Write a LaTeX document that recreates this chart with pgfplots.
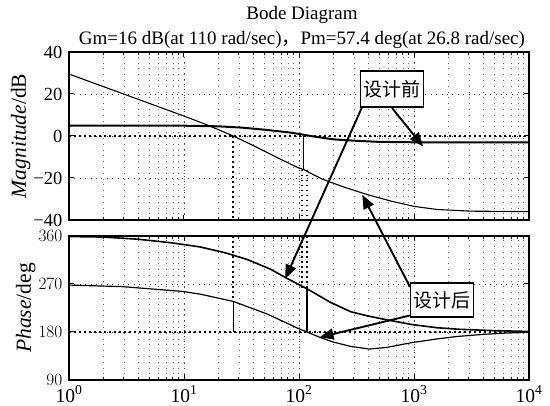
\documentclass[border=0pt]{standalone}
\usepackage{fontspec}
\setmainfont{Liberation Serif}
\newfontfamily\cjk{Noto Sans CJK SC}
\usepackage{pgfplots}
\pgfplotsset{compat=1.18}
\usetikzlibrary{arrows.meta}

\newcommand{\bodefont}{\fontsize{19}{21}\selectfont}
\newcommand{\tickfont}{\fontsize{19.5}{21}\selectfont}
\newcommand{\ytickfont}{\fontsize{18.5}{20}\selectfont}
\newcommand{\labfont}{\fontsize{21.5}{23}\selectfont}
\pgfplotsset{every axis/.append style={
    scale only axis, width=460pt,
    xmin=1, xmax=10000,
    xtick={1,10,100,1000,10000},
    axis line style={line width=1.3pt},
    tick align=inside, tick style={black,line width=1pt},
    major tick length=5pt, minor tick length=3pt,
    minor y tick num=0,
    grid=both,
    major grid style={black!75,line width=0.8pt,dash pattern=on 0.9pt off 4.5pt},
    minor grid style={black!55,line width=0.7pt,dash pattern=on 0.8pt off 5pt},
    xticklabel style={font=\tickfont,inner sep=1pt,yshift=-4.5pt},
    yticklabel style={font=\ytickfont,inner sep=0.5pt,xshift=-6pt},
    ylabel style={font=\labfont,yshift=-1pt}}}
\tikzset{
  margin/.style={line width=1.6pt,dash pattern=on 1.6pt off 3.4pt,black},
  tip/.style={line width=1.9pt,-{Triangle[length=14pt,width=11pt]}}}

\begin{document}
\begin{tikzpicture}
\useasboundingbox (0,0) rectangle (550pt,406pt);

% magnitude
\begin{semilogxaxis}[at={(69pt,186pt)}, anchor=south west, height=168pt,
  ymin=-40, ymax=40, ytick={-40,-20,0,20,40},
  yticklabels={−40,−20,0,20,40}, xticklabels={},
  ylabel={\textit{Magnitude}/dB}]
\addplot[margin] coordinates {(1,0) (10000,0)};
\addplot[margin] coordinates {(26.8,0) (26.8,-40)};
\addplot[margin] coordinates {(106,-16) (106,-40)};
\addplot[margin] coordinates {(117,-16) (117,-40)};
% before design
\addplot[black,line width=2pt] coordinates {
  (1,4.9) (10,4.9) (19.95,4.6) (31.6,4.0) (50.1,3.0) (79.4,1.8) (100,1.0)
  (125.9,0.0) (199.5,-1.6) (316,-2.3) (501,-2.8) (1000,-3.0) (10000,-3.0)};
% after design
\addplot[black,line width=1.1pt] coordinates {
  (1,29.5) (1.778,24.5) (3.162,19.5) (5.623,14.5) (10,9.5) (15.85,5.3)
  (26.8,0) (39.81,-4.5) (63.1,-10) (100,-15.3) (110,-16) (158.5,-20.5)
  (251.2,-24.5) (398.1,-28) (631,-31) (1000,-33.5) (1585,-35) (3162,-35.8)
  (10000,-36)};
\addplot[black,line width=1.3pt] coordinates {(110,0) (110,-16)};
\coordinate (boxA) at (axis cs:644,22.4);
\coordinate (a1s) at (axis cs:645,13.3);
\coordinate (a1e) at (axis cs:1200,-5);
\coordinate (a2s) at (axis cs:358,14.4);
\coordinate (b1e) at (axis cs:355,-28);
\end{semilogxaxis}

% phase
\begin{semilogxaxis}[at={(69pt,26pt)}, anchor=south west, height=144pt,
  ymin=90, ymax=360, ytick={90,180,270,360},
  xticklabels={10\textsuperscript{0},10\textsuperscript{1},10\textsuperscript{2},10\textsuperscript{3},10\textsuperscript{4}},
  ylabel={\textit{Phase}/deg}]
\addplot[margin] coordinates {(1,180) (10000,180)};
\addplot[margin] coordinates {(26.8,360) (26.8,237.4)};
\addplot[margin] coordinates {(106,360) (106,263)};
\addplot[margin] coordinates {(117,360) (117,261)};
% before design
\addplot[black,line width=1.6pt] coordinates {
  (1,359) (1.995,358) (3.981,354) (7.943,347) (13.8,339.5) (22.39,329)
  (35.48,316) (56.23,298) (79.43,280) (117.5,261) (186.2,236) (281.8,218)
  (398.1,210) (575.4,203) (955,194) (1585,188) (2512,185) (5012,182.5)
  (10000,181)};
% after design
\addplot[black,line width=1.2pt] coordinates {
  (1,268) (2.951,265) (9.772,256) (13.8,251) (26.8,237.4) (52.48,214)
  (100,186) (117.5,180) (151.4,170) (199.5,161) (281.8,153) (407.4,148)
  (575.4,151) (955,160) (1585,167) (2344,171.5) (3981,175.5) (6310,178)
  (10000,179.5)};
\addplot[black,line width=1.3pt] coordinates {(26.8,180) (26.8,237.4)};
\addplot[black,line width=1.3pt] coordinates {(117.5,180) (117.5,261)};
\coordinate (a2e) at (axis cs:75.9,280);
\coordinate (boxB) at (axis cs:1750,240);
\coordinate (b1s) at (axis cs:923,264.5);
\coordinate (b2s) at (axis cs:923,211);
\coordinate (b2e) at (axis cs:151,170);
\end{semilogxaxis}

\draw[tip] (a1s) -- (a1e);
\draw[tip] (a2s) -- (a2e);
\draw[tip] (b1s) -- (b1e);
\draw[tip] (b2s) -- (b2e);
\node[draw=black,line width=1.8pt,fill=white,inner sep=3pt,minimum height=36pt,font=\bodefont\cjk] at (boxA) {设计前};
\node[draw=black,line width=1.8pt,fill=white,inner sep=3pt,minimum height=34pt,font=\bodefont\cjk] at (boxB) {设计后};

\node[anchor=base,font=\bodefont] at (302pt,386pt) {Bode Diagram};
\node[anchor=base,font=\bodefont] at (302pt,361pt) {Gm=16 dB(at 110 rad/sec){\cjk ，}Pm=57.4 deg(at 26.8 rad/sec)};
\end{tikzpicture}
\end{document}
